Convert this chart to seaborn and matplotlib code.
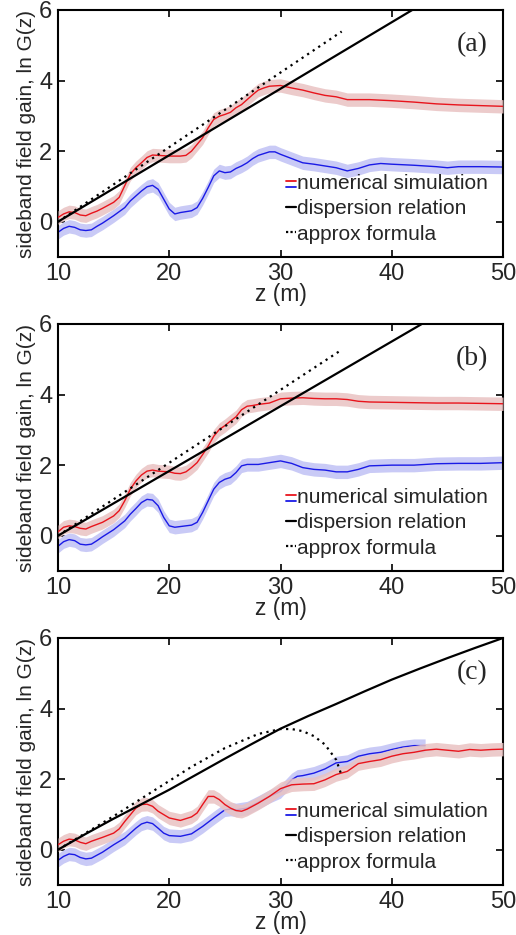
import numpy as np
import pandas as pd
import matplotlib
matplotlib.use("Agg")
import matplotlib.pyplot as plt
import seaborn as sns
from matplotlib.lines import Line2D
from matplotlib.legend_handler import HandlerBase

# ---------------- data ----------------
# panel (a)
a_red_z = [10, 10.5, 11, 11.5, 12, 12.5, 13, 13.5, 14, 15, 15.5, 16, 16.5, 17, 17.5, 18, 18.5, 19, 20, 21, 21.5, 22, 22.5, 23, 23.5, 24, 24.5, 25, 25.5, 26, 26.5, 27, 27.5, 28, 28.5, 29, 30, 31, 32, 33, 34, 35, 36, 37, 38, 40, 42, 44, 46, 48, 50]
a_red_g = [0.12, 0.22, 0.28, 0.26, 0.19, 0.17, 0.24, 0.30, 0.38, 0.55, 0.69, 1.02, 1.35, 1.53, 1.67, 1.82, 1.89, 1.88, 1.86, 1.86, 1.88, 2.00, 2.19, 2.38, 2.66, 2.90, 2.99, 3.04, 3.10, 3.23, 3.32, 3.46, 3.60, 3.73, 3.79, 3.84, 3.86, 3.79, 3.73, 3.65, 3.58, 3.54, 3.46, 3.46, 3.46, 3.43, 3.39, 3.34, 3.31, 3.29, 3.27]
a_blue_z = [10, 10.5, 11, 11.5, 12, 12.5, 13, 13.5, 14, 15, 16, 16.5, 17, 17.5, 18, 18.5, 19, 19.5, 20, 20.5, 21, 22, 22.5, 23, 23.5, 24, 24.5, 25, 25.5, 26, 26.5, 27, 27.5, 28, 29, 29.5, 30, 31, 32, 33, 34, 35, 36, 37, 38, 39, 40, 42, 44, 45, 46, 48, 50]
a_blue_g = [-0.30, -0.19, -0.13, -0.16, -0.23, -0.25, -0.23, -0.13, -0.04, 0.17, 0.40, 0.59, 0.73, 0.87, 0.99, 1.03, 0.92, 0.64, 0.36, 0.22, 0.26, 0.31, 0.40, 0.66, 0.97, 1.30, 1.44, 1.39, 1.41, 1.51, 1.58, 1.67, 1.79, 1.88, 1.98, 1.98, 1.91, 1.79, 1.67, 1.63, 1.58, 1.53, 1.44, 1.51, 1.61, 1.65, 1.63, 1.60, 1.56, 1.53, 1.56, 1.56, 1.55]
a_disp_z = [10, 41.84]
a_disp_g = [0.0, 6.0]
a_appr_z = [10, 35.5]
a_appr_g = [0.0, 5.39]

# panel (b)
b_red_z = [10, 10.5, 11, 11.5, 12, 12.5, 13, 14, 15, 15.5, 16, 16.5, 17, 17.5, 18, 18.5, 19, 19.5, 20, 20.5, 21, 21.5, 22, 22.5, 23, 23.5, 24, 24.5, 25, 25.5, 26, 26.5, 27, 27.5, 28, 29, 30, 31, 32, 33, 34, 35, 36, 37, 38, 40, 42, 44, 46, 48, 50]
b_red_g = [0.11, 0.24, 0.28, 0.26, 0.21, 0.19, 0.26, 0.38, 0.56, 0.71, 0.99, 1.32, 1.55, 1.72, 1.83, 1.86, 1.83, 1.82, 1.81, 1.77, 1.76, 1.81, 1.93, 2.07, 2.30, 2.54, 2.82, 3.01, 3.12, 3.25, 3.37, 3.57, 3.67, 3.69, 3.72, 3.76, 3.88, 3.90, 3.91, 3.89, 3.88, 3.88, 3.86, 3.81, 3.79, 3.78, 3.77, 3.76, 3.76, 3.75, 3.74]
b_blue_z = [10, 10.5, 11, 11.5, 12, 12.5, 13, 13.5, 14, 15, 16, 16.5, 17, 17.5, 18, 18.5, 19, 19.5, 20, 20.5, 21, 22, 22.5, 23, 23.5, 24, 24.5, 25, 25.5, 26, 26.5, 27, 28, 29, 30, 31, 32, 33, 34, 35, 36, 37, 38, 40, 42, 44, 46, 48, 50]
b_blue_g = [-0.30, -0.17, -0.11, -0.14, -0.24, -0.26, -0.24, -0.14, -0.03, 0.17, 0.42, 0.61, 0.77, 0.94, 1.03, 1.01, 0.85, 0.52, 0.28, 0.24, 0.26, 0.30, 0.38, 0.66, 0.99, 1.32, 1.51, 1.60, 1.65, 1.79, 1.98, 2.02, 2.02, 2.07, 2.12, 2.05, 1.93, 1.88, 1.86, 1.81, 1.81, 1.88, 1.98, 2.00, 2.00, 2.04, 2.05, 2.05, 2.07]
b_disp_z = [10, 42.7]
b_disp_g = [0.0, 6.0]
b_appr_z = [10, 35.5]
b_appr_g = [0.0, 5.27]

# panel (c)
c_red_z = [10, 10.5, 11, 11.5, 12, 12.5, 13, 14, 15, 15.5, 16, 16.5, 17, 17.5, 18, 18.5, 19, 20, 21, 22, 22.5, 23, 23.5, 24, 24.5, 25, 25.5, 26, 26.5, 27, 28, 29, 30, 31, 32, 33, 34, 35, 36, 37, 38, 39, 40, 41, 42, 43, 44, 45, 46, 47, 48, 49, 50]
c_red_g = [0.14, 0.24, 0.30, 0.28, 0.21, 0.17, 0.24, 0.35, 0.47, 0.59, 0.80, 0.99, 1.18, 1.28, 1.29, 1.23, 1.09, 0.90, 0.83, 0.93, 1.04, 1.28, 1.51, 1.51, 1.42, 1.28, 1.18, 1.11, 1.09, 1.15, 1.32, 1.51, 1.73, 1.84, 1.86, 1.87, 1.98, 2.13, 2.22, 2.44, 2.50, 2.55, 2.65, 2.72, 2.76, 2.82, 2.85, 2.82, 2.79, 2.84, 2.82, 2.84, 2.85]
c_blue_z = [10, 10.5, 11, 11.5, 12, 12.5, 13, 14, 15, 16, 16.5, 17, 17.5, 18, 18.5, 19, 19.5, 20, 21, 22, 23, 24, 25, 25.5, 26, 27, 28, 29, 30, 31, 31.5, 32, 33, 34, 35, 36, 37, 38, 39, 40, 41, 42, 43]
c_blue_g = [-0.30, -0.19, -0.12, -0.14, -0.22, -0.26, -0.24, -0.07, 0.14, 0.33, 0.47, 0.61, 0.73, 0.78, 0.74, 0.61, 0.47, 0.40, 0.38, 0.45, 0.66, 0.90, 1.13, 1.15, 1.13, 1.18, 1.34, 1.51, 1.65, 1.98, 2.08, 2.10, 2.17, 2.29, 2.46, 2.50, 2.65, 2.72, 2.76, 2.84, 2.91, 2.95, 2.95]
c_disp_z = [10, 12.5, 15, 17.5, 20, 22.5, 25, 27.5, 30, 32.5, 35, 37.5, 40, 42.5, 45, 47.5, 50]
c_disp_g = [0.0, 0.45, 0.88, 1.29, 1.70, 2.14, 2.58, 3.01, 3.43, 3.79, 4.13, 4.48, 4.82, 5.13, 5.43, 5.72, 6.0]
c_appr_z = [10, 12, 15, 18, 20, 22, 25, 28, 30, 31, 32, 33, 34, 35, 35.5]
c_appr_g = [0.0, 0.38, 0.95, 1.55, 1.95, 2.35, 2.88, 3.28, 3.42, 3.42, 3.36, 3.22, 2.98, 2.55, 2.1]

band_half = 0.19
panel_labels = ["(a)", "(b)", "(c)"]
xticks = [10, 20, 30, 40, 50]
yticks = [0, 2, 4, 6]
legend_labels = ["numerical simulation", "dispersion relation", "approx formula"]

panels = [
    (a_red_z, a_red_g, a_blue_z, a_blue_g, a_disp_z, a_disp_g, a_appr_z, a_appr_g),
    (b_red_z, b_red_g, b_blue_z, b_blue_g, b_disp_z, b_disp_g, b_appr_z, b_appr_g),
    (c_red_z, c_red_g, c_blue_z, c_blue_g, c_disp_z, c_disp_g, c_appr_z, c_appr_g),
]

# ---------------- style ----------------
sns.set_style("ticks")
plt.rcParams['font.family'] = ['Liberation Sans', 'DejaVu Sans']
plt.rcParams['xtick.direction'] = 'in'
plt.rcParams['ytick.direction'] = 'in'

RED = '#e8141c'
BLUE = '#1a1ae6'
RED_BAND = '#e9c2c2'
BLUE_BAND = '#c9caf6'


class HandlerStacked(HandlerBase):
    def create_artists(self, legend, orig_handle, xdescent, ydescent,
                       width, height, fontsize, trans):
        l1 = Line2D([-xdescent, -xdescent + width], [height * 0.55 - ydescent] * 2,
                    color=RED, lw=1.3, transform=trans)
        l2 = Line2D([-xdescent, -xdescent + width], [height * 0.15 - ydescent] * 2,
                    color=BLUE, lw=1.3, transform=trans)
        return [l1, l2]


class StackedHandle:
    pass


fig = plt.figure(figsize=(5.16, 9.35), dpi=100)
left = 58 / 516
width = 445 / 516
tops = [10, 324, 638]
h_px = 247

for i, (rz, rg, bz, bg, dz, dg, az, ag) in enumerate(panels):
    top = tops[i]
    ax = fig.add_axes([left, 1 - (top + h_px) / 935, width, h_px / 935])

    rz_a, rg_a = np.array(rz), np.array(rg)
    bz_a, bg_a = np.array(bz), np.array(bg)

    ax.fill_between(bz_a, bg_a - band_half, bg_a + band_half, color=BLUE_BAND, lw=0, zorder=1)
    sns.lineplot(x=bz, y=bg, ax=ax, color=BLUE, lw=1.0, zorder=2)
    ax.fill_between(rz_a, rg_a - band_half, rg_a + band_half, color=RED_BAND, lw=0, alpha=0.85, zorder=3)
    sns.lineplot(x=rz, y=rg, ax=ax, color=RED, lw=1.0, zorder=4)
    sns.lineplot(x=dz, y=dg, ax=ax, color='black', lw=1.6, zorder=5)
    sns.lineplot(x=az, y=ag, ax=ax, color='black', lw=1.6, linestyle=(0, (1, 2)), zorder=5)

    ax.set_xlim(10, 50)
    ax.set_ylim(-1, 6)
    ax.set_xticks(xticks)
    ax.set_yticks(yticks)
    ax.tick_params(axis='both', which='both', direction='in', length=5, width=1.2,
                   color='black', top=True, right=True, labelsize=17, pad=4)
    for s in ax.spines.values():
        s.set_linewidth(1.5)
        s.set_color('black')
        s.set_visible(True)
    ax.set_xlabel("z (m)", fontsize=16.5, labelpad=-1)
    ax.set_ylabel("sideband field gain, ln G(z)", fontsize=15, labelpad=2)

    ax.text(0.93, 0.86, panel_labels[i], transform=ax.transAxes, fontsize=20,
            family=['Liberation Serif', 'DejaVu Serif'], ha='center', va='center')

    h1 = StackedHandle()
    h2 = Line2D([], [], color='black', lw=1.6)
    h3 = Line2D([], [], color='black', lw=1.6, linestyle=(0, (1, 1)))
    ax.legend([h1, h2, h3], legend_labels, handler_map={StackedHandle: HandlerStacked()},
              loc='lower right', bbox_to_anchor=(0.985, 0.02), frameon=False,
              fontsize=15, handlelength=0.5, handletextpad=0.05, labelspacing=0.3,
              borderaxespad=0.0)

fig.savefig("out.png", dpi=100)
